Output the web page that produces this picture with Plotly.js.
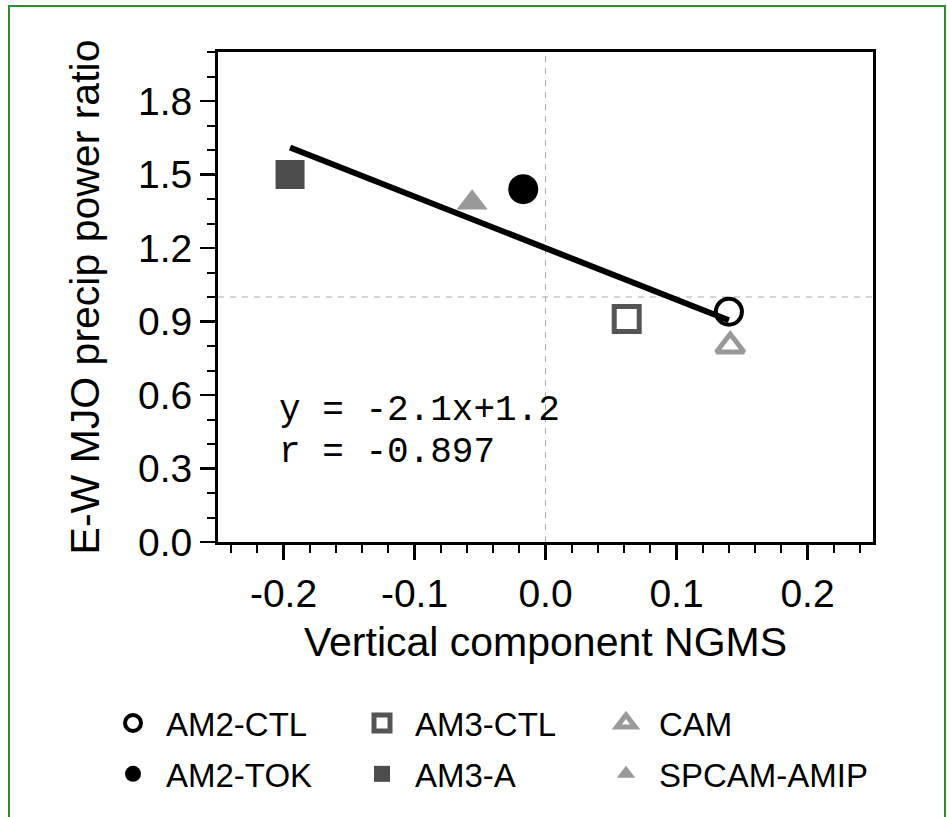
<!DOCTYPE html>
<html><head><meta charset="utf-8">
<script src="https://cdn.plot.ly/plotly-3.0.1.min.js"></script>
<style>
html,body{margin:0;padding:0;background:#fff;overflow:hidden}
#chart{width:947px;height:817px}
#frame{position:absolute;left:8px;top:5px;width:934px;height:840px;border:2px solid #2e8b2e;pointer-events:none}
</style>
</head><body><div id="chart"></div><div id="frame"></div>
<script>
// ---- data ----
const models     = ['AM2-CTL', 'AM2-TOK', 'AM3-CTL', 'AM3-A', 'CAM', 'SPCAM-AMIP'];
const ngms       = [0.140, -0.017, 0.062, -0.195, 0.141, -0.056];
const powerRatio = [0.94, 1.44, 0.91, 1.50, 0.80, 1.385];
const fitX = [-0.195, 0.140];
const fitY = [1.61, 0.905];
const fitLabel = ['y = -2.1x+1.2', 'r = -0.897'];
const xTickVals = [-0.2, -0.1, 0.0, 0.1, 0.2];
const xTickText = ['-0.2', '-0.1', '0.0', '0.1', '0.2'];
const yTickVals = [0.0, 0.3, 0.6, 0.9, 1.2, 1.5, 1.8];
const yTickText = ['0.0', '0.3', '0.6', '0.9', '1.2', '1.5', '1.8'];

// ---- styles ----
const styles = {
  'AM2-CTL':    {symbol: 'circle-open',      color: '#000000', size: 26, lw: 4,  legend: 'legend'},
  'AM2-TOK':    {symbol: 'circle',           color: '#000000', size: 30, lw: 0,  legend: 'legend'},
  'AM3-CTL':    {symbol: 'square-open',      color: '#555555', size: 25, lw: 5,  legend: 'legend2'},
  'AM3-A':      {symbol: 'square',           color: '#4d4d4d', size: 29, lw: 0,  legend: 'legend2'},
  'CAM':        {symbol: 'triangle-up-open', color: '#999999', size: 24, lw: 5,  legend: 'legend3'},
  'SPCAM-AMIP': {symbol: 'triangle-up',      color: '#999999', size: 27, lw: 0,  legend: 'legend3'}
};

const traces = [];
traces.push({
  x: fitX, y: fitY, mode: 'lines', type: 'scatter', showlegend: false,
  line: {color: '#000', width: 6}, hoverinfo: 'skip'
});
models.forEach((m, i) => {
  const s = styles[m];
  traces.push({
    x: [ngms[i]], y: [powerRatio[i]], name: m, type: 'scatter', mode: 'markers',
    legend: s.legend, legendgroup: m,
    marker: {symbol: s.symbol, color: s.color, size: s.size,
             line: {width: s.lw, color: s.color}}
  });
});

const L = 218, R = 873, T = 52, B = 542;
const px2paperX = p => (p - L) / (R - L);
const px2paperY = p => (B - p) / (B - T);

const legendCommon = {
  font: {size: 33, color: '#000', family: 'Liberation Sans, Arial, sans-serif'},
  bgcolor: 'rgba(0,0,0,0)', borderwidth: 0, orientation: 'v', itemwidth: 56,
  xanchor: 'left', yanchor: 'top', tracegroupgap: 5, itemclick: false
};

const monoFont = {family: 'Liberation Mono, Courier New, monospace', size: 36, color: '#000'};

const layout = {
  width: 947, height: 817,
  margin: {l: L, r: 947 - R, t: T, b: 817 - B, pad: 0},
  paper_bgcolor: '#fff', plot_bgcolor: '#fff',
  font: {family: 'Liberation Sans, Arial, sans-serif', color: '#000'},
  showlegend: true,
  xaxis: {
    range: [-0.25, 0.25], tickmode: 'array', tickvals: xTickVals, ticktext: xTickText,
    ticks: 'outside', ticklen: 15, tickwidth: 2.5, tickcolor: '#000',
    showline: true, linewidth: 3, linecolor: '#000', mirror: true,
    showgrid: false, zeroline: false, tickfont: {size: 39},
    minor: {tickmode: 'linear', tick0: 0, dtick: 0.02, ticks: 'outside', ticklen: 8, tickwidth: 2, tickcolor: '#000', showgrid: false},
    title: {text: 'Vertical component NGMS', font: {size: 41}, standoff: 14}
  },
  yaxis: {
    range: [0, 2.0], tickmode: 'array', tickvals: yTickVals, ticktext: yTickText,
    ticks: 'outside', ticklen: 15, tickwidth: 2.5, tickcolor: '#000',
    showline: true, linewidth: 3, linecolor: '#000', mirror: true,
    showgrid: false, zeroline: false, tickfont: {size: 39},
    minor: {tickmode: 'linear', tick0: 0, dtick: 0.1, ticks: 'outside', ticklen: 8, tickwidth: 2, tickcolor: '#000', showgrid: false},
    title: {text: 'E-W MJO precip power ratio', font: {size: 41}, standoff: 26}
  },
  shapes: [
    {type: 'line', xref: 'x', yref: 'paper', x0: 0, x1: 0, y0: 0, y1: 1, layer: 'below',
     line: {color: '#aaaaaa', width: 1, dash: '6px,6px'}},
    {type: 'line', xref: 'paper', yref: 'y', x0: 0, x1: 1, y0: 1, y1: 1, layer: 'below',
     line: {color: '#aaaaaa', width: 1, dash: '6px,6px'}}
  ],
  annotations: [
    {xref: 'paper', yref: 'paper', x: px2paperX(278), y: px2paperY(410), xanchor: 'left', yanchor: 'middle',
     text: fitLabel[0], showarrow: false, borderpad: 0, font: monoFont},
    {xref: 'paper', yref: 'paper', x: px2paperX(278), y: px2paperY(452), xanchor: 'left', yanchor: 'middle',
     text: fitLabel[1], showarrow: false, borderpad: 0, font: monoFont}
  ],
  legend:  Object.assign({}, legendCommon, {x: px2paperX(100), y: px2paperY(695)}),
  legend2: Object.assign({}, legendCommon, {x: px2paperX(349), y: px2paperY(695)}),
  legend3: Object.assign({}, legendCommon, {x: px2paperX(593), y: px2paperY(695)})
};

Plotly.newPlot('chart', traces, layout, {displayModeBar: false, staticPlot: true});
</script>
</body></html>
